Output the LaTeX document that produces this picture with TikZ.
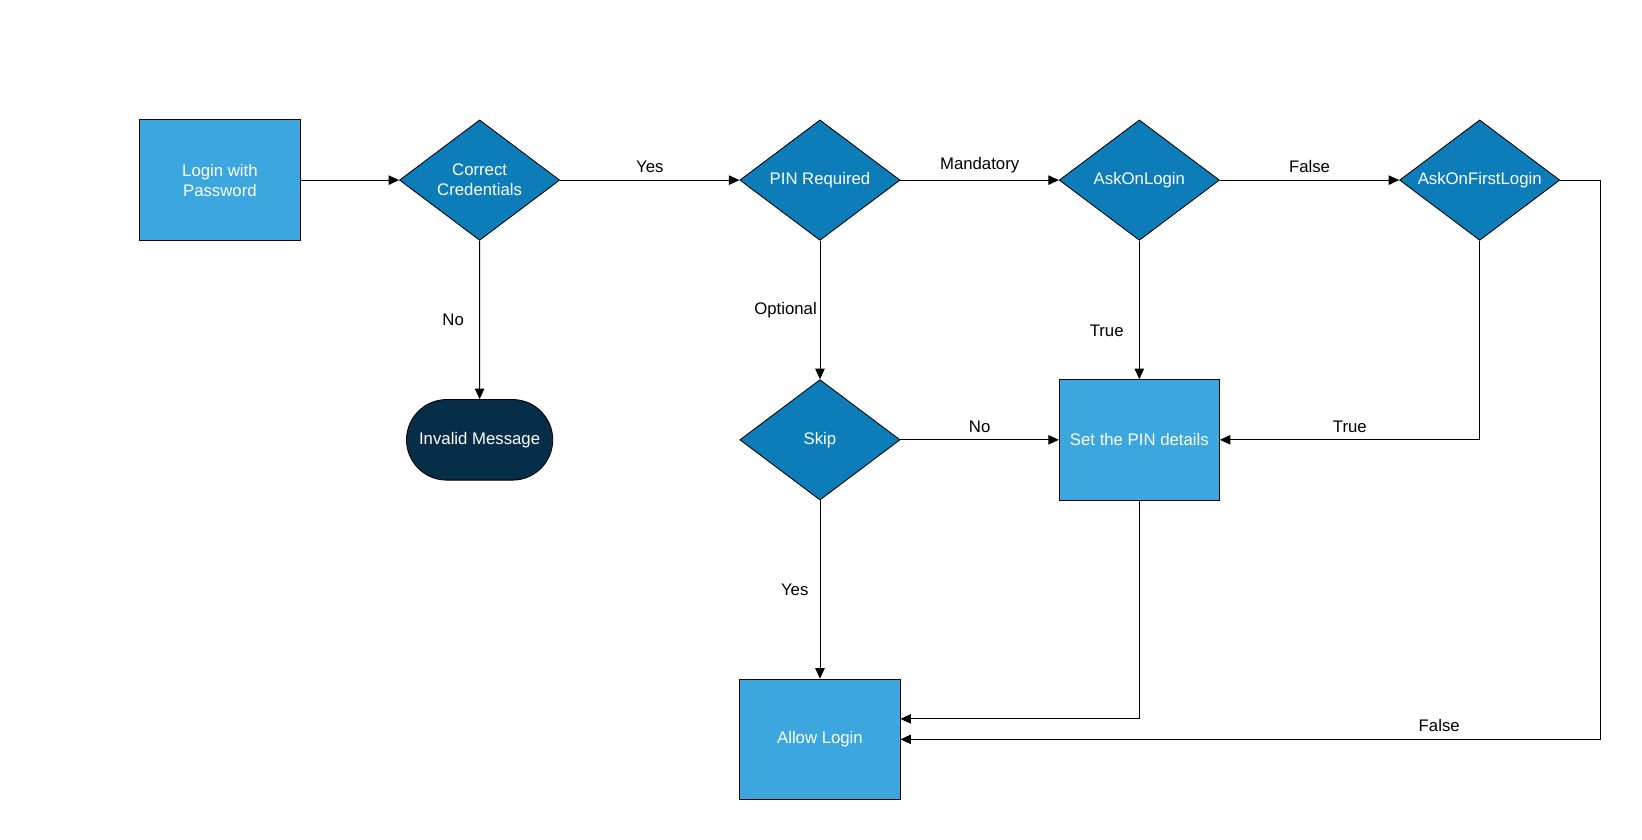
\documentclass[tikz,border=0pt]{standalone}
\usepackage{fontspec}
\setmainfont{Liberation Sans}
\usetikzlibrary{arrows.meta,shapes.geometric,shapes.misc,positioning}
\definecolor{boxblue}{HTML}{3CA6DE}
\definecolor{decblue}{HTML}{0D7DBA}
\definecolor{darkblue}{HTML}{062E48}
\tikzset{>={Triangle[length=5pt,width=4.5pt]}, line width=0.8pt,
  every node/.style={font=\fontsize{8}{9.6}\selectfont},
  process/.style={draw, fill=boxblue, text=white, minimum width=76.5pt, minimum height=57.5pt, align=center},
  decision/.style={draw, diamond, fill=decblue, text=white, minimum width=76.5pt, minimum height=57.5pt, inner sep=0pt, align=center, aspect=1.33},
  term/.style={draw, rounded rectangle, fill=darkblue, text=white, minimum width=76.5pt, minimum height=38.5pt},
  lbl/.style={fill=none, text=black}}
\begin{document}
\begin{tikzpicture}[x=0.5pt, y=-0.5pt]
  \useasboundingbox (0,0) rectangle (1568,802);
  % nodes
  \node [process] (login) at (210,172) {Login with\\Password};
  \node [decision] (cred) at (458,172) {Correct\\Credentials};
  \node [decision] (pin) at (783,172) {PIN Required};
  \node [decision] (ask) at (1088,172) {AskOnLogin};
  \node [decision] (first) at (1413,172) {AskOnFirstLogin};
  \node [term] (invalid) at (458,420) {Invalid Message};
  \node [decision] (skip) at (783,420) {Skip};
  \node [process] (set) at (1088,420) {Set the PIN details};
  \node [process] (allow) at (783,706) {Allow Login};
  \coordinate (r1) at (1528,172);
  \coordinate (r2) at (1528,706);
  % paths
  \draw [->] (login) -- (cred);
  \draw [->] (cred) -- node [lbl, above] {Yes} (pin);
  \draw [->] (cred) -- node [lbl, left, xshift=-4pt] {No} (invalid);
  \draw [->] (pin) -- node [lbl, above] {Mandatory} (ask);
  \draw [->] (pin) -- node [lbl, left, xshift=2pt] {Optional} (skip);
  \draw [->] (ask) -- node [lbl, above] {False} (first);
  \draw [->] (ask) -- node [lbl, left, xshift=-4pt, yshift=-10pt] {True} (set);
  \draw [->] (skip) -- node [lbl, above] {No} (set);
  \draw [->] (skip) -- node [lbl, left, xshift=-2pt] {Yes} (allow);
  \draw [->] (first) |- node [lbl, above, pos=0.75] {True} (set);
  \draw [->] (set) |- ([yshift=9.75pt]allow.east);
  \draw [->] (first.east) -- (r1) -- (r2) -- node [lbl, above, pos=0.23] {False} (allow);
\end{tikzpicture}
\end{document}
